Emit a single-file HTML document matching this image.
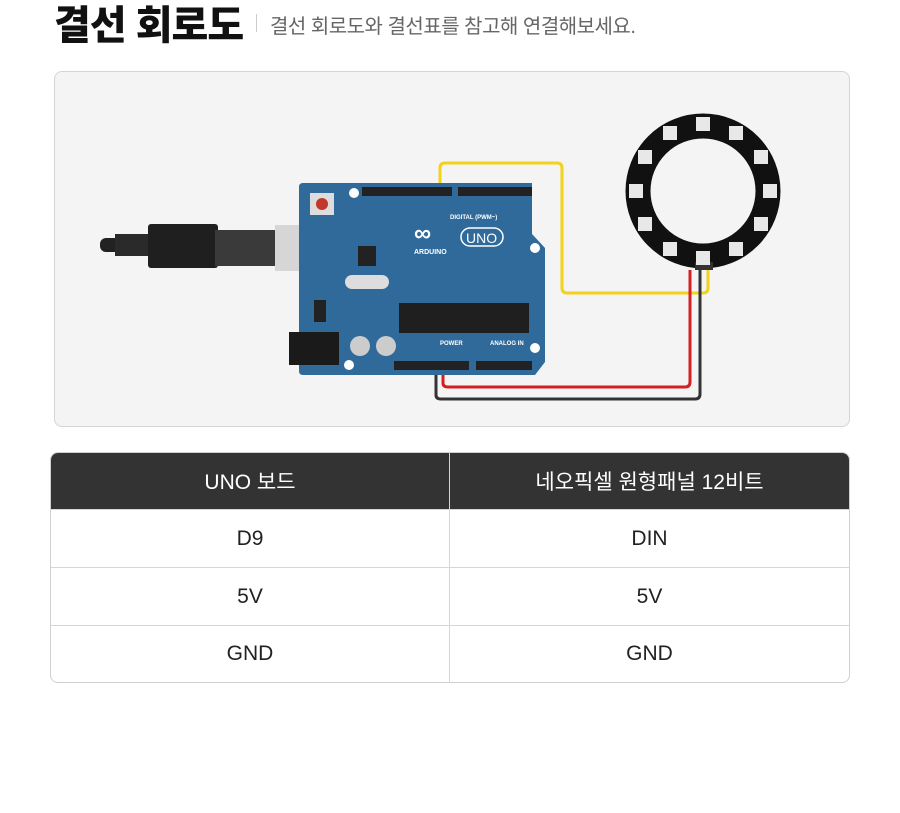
<!DOCTYPE html>
<html><head><meta charset="utf-8"><style>
body{margin:0;width:900px;height:813px;background:#fff;font-family:"Liberation Sans","Noto Sans CJK KR",sans-serif;position:relative;overflow:hidden}
.t{position:absolute;left:54px;top:-7px;font-size:40px;font-weight:900;color:#111;letter-spacing:-1px;white-space:nowrap}
.bar{position:absolute;left:256px;top:14px;width:1px;height:18px;background:#ccc}
.s{position:absolute;left:270px;top:10px;font-size:20px;color:#666;white-space:nowrap;letter-spacing:-0.5px}
.panel{position:absolute;left:54px;top:71px;width:794px;height:354px;background:#f4f4f5;border:1px solid #d4d4d8;border-radius:8px}
table{position:absolute;left:50px;top:452px;width:800px;border-collapse:separate;border-spacing:0;border:1px solid #d0d0d0;border-radius:8px;overflow:hidden;font-size:21px}
td,th{height:57px;text-align:center;color:#222;font-weight:400;border-bottom:1px solid #d6d6d6;padding:0}
th{background:#333;color:#fff;height:56px}
td:first-child,th:first-child{border-right:1px solid #d6d6d6;width:398px}
tr:last-child td{border-bottom:none;height:56px}
</style></head><body>
<div class="t">결선 회로도</div><div class="bar"></div>
<div class="s">결선 회로도와 결선표를 참고해 연결해보세요.</div>
<div class="panel"></div>
<svg style="position:absolute;left:0;top:0" width="900" height="440">
<rect x="100" y="238" width="20" height="14" rx="6" fill="#222"/>
<rect x="115" y="234" width="35" height="22" fill="#2a2a2a"/>
<rect x="148" y="224" width="70" height="44" rx="3" fill="#1f1f1f"/>
<rect x="215" y="230" width="60" height="36" fill="#3a3a3a"/>
<rect x="275" y="225" width="62" height="46" fill="#d6d6d6"/>
<path d="M440 192 V168 Q440 163 445 163 H557 Q562 163 562 168 V288 Q562 293 567 293 H703 Q708 293 708 288 V270" fill="none" stroke="#f2d21a" stroke-width="3"/>
<path d="M443 365 V383 Q443 387 448 387 H685 Q690 387 690 382 V270" fill="none" stroke="#d42020" stroke-width="3"/>
<path d="M436 365 V395 Q436 399 441 399 H695 Q700 399 700 394 V270" fill="none" stroke="#333" stroke-width="3"/>
<path d="M303 183 H532 V234 L545 248 V362 L535 375 H303 Q299 375 299 371 V187 Q299 183 303 183Z" fill="#2f6a9a"/>
<rect x="362" y="187" width="90" height="9" fill="#222"/>
<rect x="458" y="187" width="74" height="9" fill="#222"/>
<rect x="394" y="361" width="75" height="9" fill="#222"/>
<rect x="476" y="361" width="56" height="9" fill="#222"/>
<rect x="310" y="193" width="24" height="22" fill="#ddd"/><circle cx="322" cy="204" r="6" fill="#c0392b"/>
<circle cx="354" cy="193" r="5" fill="#fff"/><circle cx="535" cy="248" r="5" fill="#fff"/><circle cx="535" cy="348" r="5" fill="#fff"/><circle cx="349" cy="365" r="5" fill="#fff"/>
<rect x="358" y="246" width="18" height="20" fill="#222"/>
<rect x="345" y="275" width="44" height="14" rx="7" fill="#ddd"/>
<rect x="314" y="300" width="12" height="22" fill="#222"/>
<rect x="289" y="332" width="50" height="33" fill="#1a1a1a"/>
<circle cx="360" cy="346" r="10" fill="#ccc"/><circle cx="386" cy="346" r="10" fill="#ccc"/>
<rect x="399" y="303" width="130" height="30" fill="#1f1f1f"/>
<text x="414" y="241" font-size="24" fill="#fff" font-weight="bold">∞</text>
<rect x="461" y="228" width="42" height="18" rx="9" fill="none" stroke="#fff" stroke-width="1.5"/>
<text x="466" y="243" font-size="14" fill="#fff">UNO</text>
<text x="414" y="254" font-size="7" fill="#fff" font-weight="bold">ARDUINO</text>
<text x="450" y="219" font-size="6" fill="#fff" font-weight="bold">DIGITAL (PWM~)</text>
<text x="440" y="345" font-size="6" fill="#fff" font-weight="bold">POWER</text>
<text x="490" y="345" font-size="6" fill="#fff" font-weight="bold">ANALOG IN</text>
<circle cx="703" cy="191" r="65" fill="none" stroke="#111" stroke-width="25"/>
<rect x="695" y="262" width="18" height="8" fill="#333"/>
<g fill="#e8e8e8">
<rect x="696" y="117" width="14" height="14"/><rect x="696" y="251" width="14" height="14"/>
<rect x="629" y="184" width="14" height="14"/><rect x="763" y="184" width="14" height="14"/>
<rect x="663" y="126" width="14" height="14"/><rect x="729" y="126" width="14" height="14"/>
<rect x="638" y="150" width="14" height="14"/><rect x="754" y="150" width="14" height="14"/>
<rect x="638" y="217" width="14" height="14"/><rect x="754" y="217" width="14" height="14"/>
<rect x="663" y="242" width="14" height="14"/><rect x="729" y="242" width="14" height="14"/>
</g>
</svg>
<table>
<tr><th>UNO 보드</th><th>네오픽셀 원형패널 12비트</th></tr>
<tr><td>D9</td><td>DIN</td></tr>
<tr><td>5V</td><td>5V</td></tr>
<tr><td>GND</td><td>GND</td></tr>
</table>
</body></html>
